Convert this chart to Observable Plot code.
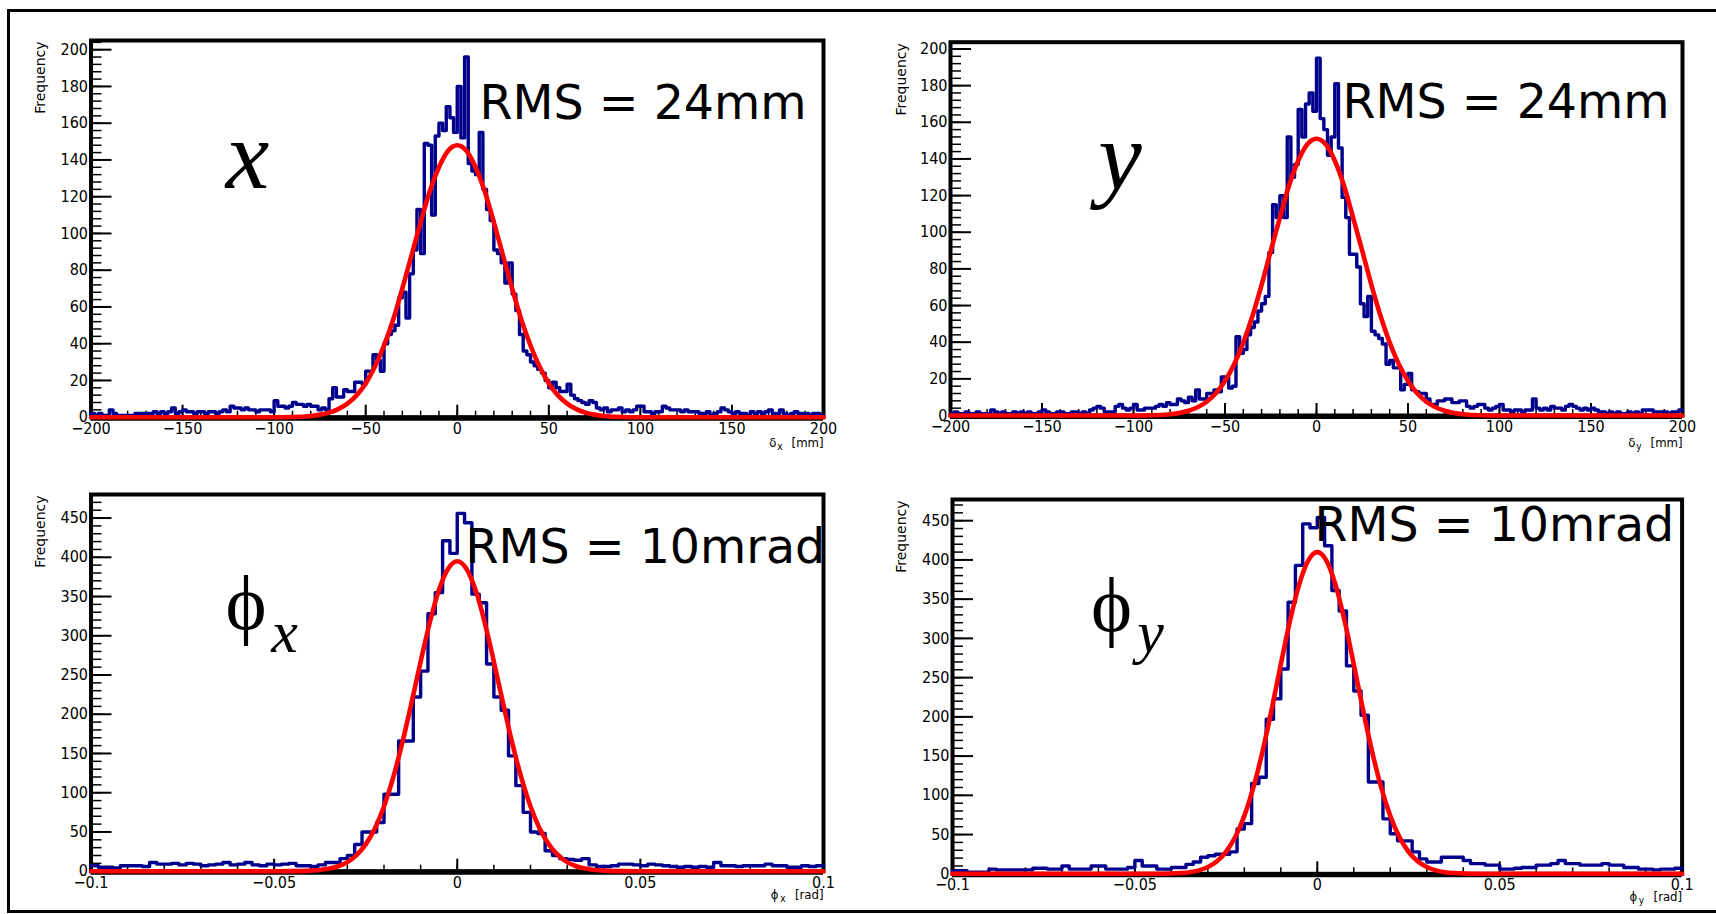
<!DOCTYPE html>
<html><head><meta charset="utf-8">
<script src="https://cdn.jsdelivr.net/npm/d3@7"></script>
<script src="https://cdn.jsdelivr.net/npm/@observablehq/plot@0.6"></script>
<style>
html,body{margin:0;padding:0;background:#fff;}
#root{position:relative;width:1716px;height:914px;overflow:hidden;background:#fff;}
#border{position:absolute;left:7px;top:8.5px;width:1740px;height:904.5px;border:3px solid #000;box-sizing:border-box;z-index:10;pointer-events:none;}
.panel{position:absolute;}
</style></head><body>
<div id="root"><div id="border"></div></div>
<script>
// ---------------- data ----------------
// δx residual histogram: 200 bins of 2 mm from -200 to 200 mm
const deltaXCounts = [
2,1,2,1,1,4,2,1,1,1, 1,1,2,2,2,2,2,3,2,3, 2,3,5,2,3,4,3,3,2,3, 3,2,3,3,2,3,4,3,6,5,
5,4,5,4,4,3,4,4,4,3, 9,6,6,5,6,8,7,7,6,7, 6,6,4,5,4,10,16,11,11,15, 14,14,19,19,18,25,25,34,31,25,
40,45,47,50,65,68,54,78,91,113, 89,149,148,110,153,160,156,169,163,155,
180,152,196,138,134,132,155,124,113,107, 91,89,84,73,84,67,58,45,36,34,
30,28,26,24,20,16,19,16,14,14, 18,12,10,9,8,7,9,8,5,4, 5,3,4,4,5,3,4,3,4,6,
6,3,3,2,3,3,6,5,4,4, 4,3,4,3,3,3,2,2,3,1, 2,3,5,4,3,2,3,2,2,1, 3,2,3,2,3,4,2,2,4,2, 1,2,3,2,2,2,1,2,2,1];
// δy residual histogram: 200 bins of 2 mm
const deltaYCounts = [
1,2,1,1,2,1,1,2,1,1, 1,3,2,1,2,1,1,2,1,2, 1,2,1,1,2,3,2,1,1,2, 2,1,1,2,2,1,2,1,3,4,
5,4,2,2,2,5,6,4,3,4, 6,3,3,4,4,4,5,6,5,7, 6,6,9,8,7,10,8,14,9,9, 12,12,14,13,21,21,15,16,43,34,
36,44,48,51,57,61,65,89,115,108, 120,108,152,130,137,167,152,170,176,166,
195,162,156,142,152,181,146,119,108,88, 88,81,61,54,65,46,44,42,39,28,
30,26,26,14,17,23,14,13,12,12, 9,6,6,8,8,9,9,7,7,8, 8,5,4,5,6,6,4,3,4,5,
6,3,3,2,3,3,2,3,3,9, 4,3,4,3,5,4,4,3,5,6, 5,4,3,4,3,4,3,2,2,1, 2,1,2,1,1,2,1,2,1,3, 3,3,2,2,2,2,1,2,2,3];
// ϕx histogram: 100 bins of 0.002 rad from -0.1 to 0.1
const phiXCounts = [
7,5,5,4,7,7,7,6,11,9, 9,10,8,10,9,7,8,9,11,8, 9,11,8,7,9,8,9,10,7,7, 6,8,11,11,16,20,34,50,50,62,
98,98,166,166,222,255,328,355,421,405, 456,444,353,342,264,222,205,147,109,75,
50,48,26,20,16,15,14,16,8,6, 6,7,9,9,8,7,9,8,7,6, 5,6,5,6,5,11,7,7,6,7, 7,7,9,7,7,5,5,7,6,7];
// ϕy histogram: 100 bins of 0.002 rad
const phiYCounts = [
4,4,2,2,2,6,5,5,5,5, 5,7,7,6,6,10,6,6,6,10, 10,6,6,6,8,17,10,10,6,6, 8,8,12,15,21,23,25,25,28,57,
64,115,123,197,223,261,346,393,446,441, 454,418,361,335,265,233,202,117,117,70,
51,42,42,28,19,15,15,21,21,21, 17,13,13,11,11,6,6,7,8,8, 11,11,13,17,13,13,11,11,11,13, 11,11,8,8,6,6,5,6,6,7];

// red fitted curves
const fitMmPos = [-200,-150,-100,-90,-80,-75,-70,-65,-60,-55,-50,-45,-40,-35,-30,-25,-20,-15,-10,-5,0,5,10,15,20,25,30,35,40,45,50,55,60,65,70,75,80,90,100,150,200];
const fitDeltaX = [0,0,0,0.1,0.7,1.4,2.5,4.4,7.4,11.9,18.4,27.4,39,53,70,88,106,123,136,145,148,145,136,123,106,88,70,53,39,27.4,18.4,11.9,7.4,4.4,2.5,1.4,0.7,0.1,0,0,0];
const fitDeltaY = [0,0,0,0.1,0.7,1.4,2.6,4.5,7.5,12.1,18.8,28,39.8,54.3,71.3,89.8,108,125.5,139,148,151,148,139,125.5,108,89.8,71.3,54.3,39.8,28,18.8,12.1,7.5,4.5,2.6,1.4,0.7,0.1,0,0,0];
const fitRadPos = [-0.1,-0.05,-0.045,-0.04,-0.0375,-0.035,-0.0325,-0.03,-0.0275,-0.025,-0.0225,-0.02,-0.0175,-0.015,-0.0125,-0.01,-0.0075,-0.005,-0.0025,0,0.0025,0.005,0.0075,0.01,0.0125,0.015,0.0175,0.02,0.0225,0.025,0.0275,0.03,0.0325,0.035,0.0375,0.04,0.045,0.05,0.1];
const fitPhiX = [0,0,0.15,0.75,1.6,3.3,6.3,11.6,20.5,34.2,54.4,82.5,119.1,163.7,214.2,267,316.9,358.2,385.4,395,385.4,358.2,316.9,267,214.2,163.7,119.1,82.5,54.4,34.2,20.5,11.6,6.3,3.3,1.6,0.75,0.15,0,0];
const fitPhiY = [0,0,0.1,0.4,1.0,2.1,4.4,8.7,16.0,28.1,46.8,73.8,110.3,156.3,209.8,267.1,322.2,368.3,399.2,410,399.2,368.3,322.2,267.1,209.8,156.3,110.3,73.8,46.8,28.1,16.0,8.7,4.4,2.1,1.0,0.4,0.1,0,0];

// tick labels
const mmTicks = [-200,-150,-100,-50,0,50,100,150,200];
const radTicks = [-0.1,-0.05,0,0.05,0.1];
const freqTicksTop = [0,20,40,60,80,100,120,140,160,180,200];
const freqTicksBottom = [0,50,100,150,200,250,300,350,400,450];

const rmsLabels = ["RMS = 24mm", "RMS = 24mm", "RMS = 10mrad", "RMS = 10mrad"];

// ---------------- drawing ----------------
const COND = '"DejaVu Sans Condensed", "Liberation Sans Narrow", "DejaVu Sans", sans-serif';
const SANS = '"DejaVu Sans", "Liberation Sans", sans-serif';
const SERIF = '"Liberation Serif", "DejaVu Serif", serif';
const fmt = d => d === 0 ? "0" : (d < 0 ? "\u2212" : "") + String(Math.abs(d));

function stepPoints(values, lo, w) {
  const pts = values.map((v, i) => ({x: lo + i * w, y: v}));
  pts.push({x: lo + values.length * w, y: values[values.length - 1]});
  return pts;
}

function panel(c) {
  const W = 858, H = c.height;
  const pw = W - c.ml - c.mr, ph = H - c.mt - c.mb;
  const fit = c.fitX.map((x, i) => ({x, y: c.fitY[i]}));
  const t = (txt, o) => Plot.text([txt], Object.assign({text: d => d, fill: "black"}, o));
  const marks = [
    Plot.tickY(c.yMinor, {y: d => d, insetRight: pw - 11, stroke: "black", strokeWidth: 1.5}),
    Plot.tickY(c.yMajor, {y: d => d, insetRight: pw - 21, stroke: "black", strokeWidth: 2}),
    Plot.tickX(c.xMinor, {x: d => d, insetTop: ph - 6, stroke: "black", strokeWidth: 1.5}),
    Plot.tickX(c.xMajor, {x: d => d, insetTop: ph - 12, stroke: "black", strokeWidth: 2}),
    Plot.axisY({ticks: c.yMajor, tickSize: 0, tickPadding: 3, tickFormat: fmt, label: null, fontSize: 16}),
    Plot.axisX({ticks: c.xMajor, tickSize: 0, tickPadding: 5, tickFormat: fmt, label: null, fontSize: 16}),
    Plot.frame({stroke: "black", strokeWidth: 4}),
    Plot.ruleY([0], {stroke: "black", strokeWidth: 5, dy: 1}),
    Plot.line(stepPoints(c.counts, c.lo, c.bw), {x: "x", y: "y", curve: "step-after", stroke: "#00008c", strokeWidth: 3.4}),
    Plot.line(fit, {x: "x", y: "y", curve: "monotone-x", stroke: "#ff0000", strokeWidth: 4.6}),
    // y axis title
    t("Frequency", {frameAnchor: "top-left", rotate: -90, textAnchor: "end", lineAnchor: "middle", dx: c.freqDx, dy: 1, fontSize: 14, fontFamily: SANS}),
    // x axis title
    t(c.unit, {frameAnchor: "bottom-right", textAnchor: "end", lineAnchor: "bottom", dy: c.xtDy, fontSize: 13, fontFamily: COND}),
    t(c.sub, {frameAnchor: "bottom-right", textAnchor: "end", lineAnchor: "bottom", dx: c.subDx, dy: c.xtDy + 3, fontSize: 10, fontFamily: COND}),
    t(c.sym, {frameAnchor: "bottom-right", textAnchor: "end", lineAnchor: "bottom", dx: c.symDx, dy: c.xtDy, fontSize: 13, fontFamily: COND}),
    // RMS annotation
    t(c.rms, {frameAnchor: "top-left", textAnchor: "start", lineAnchor: "bottom", dx: c.rmsDx, dy: c.rmsDy, fontSize: 47.5, fontFamily: SANS}),
  ];
  if (c.bigPhi) {
    marks.push(t("\u03D5", {frameAnchor: "top-left", textAnchor: "middle", lineAnchor: "bottom", dx: c.bigDx, dy: c.bigDy, fontSize: 78, fontFamily: SERIF}));
    marks.push(t(c.big, {frameAnchor: "top-left", textAnchor: "middle", lineAnchor: "bottom", dx: c.bigSubDx, dy: c.bigSubDy, fontSize: 60, fontStyle: "italic", fontFamily: SERIF}));
  } else {
    marks.push(t(c.big, {frameAnchor: "top-left", textAnchor: "middle", lineAnchor: "bottom", dx: c.bigDx, dy: c.bigDy, fontSize: 98, fontStyle: "italic", fontFamily: SERIF}));
  }
  const svg = Plot.plot({
    width: W, height: H,
    marginLeft: c.ml, marginRight: c.mr, marginTop: c.mt, marginBottom: c.mb,
    x: {domain: c.xDomain, label: null},
    y: {domain: [0, c.yMax], label: null},
    style: {background: "transparent", fontFamily: COND, fontSize: "16px", color: "black", overflow: "visible"},
    marks
  });
  const div = document.createElement("div");
  div.className = "panel";
  div.style.left = c.left + "px";
  div.style.top = c.top + "px";
  div.appendChild(svg);
  document.getElementById("root").appendChild(div);
}

const mmMinor = d3.range(-200, 201, 10);
const radMinor = d3.range(-10, 11).map(k => k / 100);

panel({left: 0, top: 0, height: 460, ml: 90.5, mr: 35, mt: 40, mb: 43.3,
  counts: deltaXCounts, lo: -200, bw: 2, xDomain: [-200, 200], yMax: 205,
  fitX: fitMmPos, fitY: fitDeltaX, xMajor: mmTicks, xMinor: mmMinor,
  yMajor: freqTicksTop, yMinor: d3.range(0, 205, 4),
  unit: "[mm]", sub: "x", sym: "\u03B4", subDx: -41, symDx: -47, xtDy: 30, freqDx: -50.5,
  rms: rmsLabels[0], rmsDx: 388.5, rmsDy: 78, big: "x", bigDx: 156.5, bigDy: 147});
panel({left: 858, top: 0, height: 460, ml: 92, mr: 34, mt: 41.7, mb: 45,
  counts: deltaYCounts, lo: -200, bw: 2, xDomain: [-200, 200], yMax: 203.7,
  fitX: fitMmPos, fitY: fitDeltaY, xMajor: mmTicks, xMinor: mmMinor,
  yMajor: freqTicksTop, yMinor: d3.range(0, 204, 4),
  unit: "[mm]", sub: "y", sym: "\u03B4", subDx: -41, symDx: -47, xtDy: 31, freqDx: -49.3,
  rms: rmsLabels[1], rmsDx: 392, rmsDy: 75.3, big: "y", bigDx: 169.5, bigDy: 146.3});
panel({left: 0, top: 460, height: 454, ml: 90.5, mr: 35, mt: 34, mb: 43.3,
  counts: phiXCounts, lo: -0.1, bw: 0.002, xDomain: [-0.1, 0.1], yMax: 480,
  fitX: fitRadPos, fitY: fitPhiX, xMajor: radTicks, xMinor: radMinor,
  yMajor: freqTicksBottom, yMinor: d3.range(0, 480, 10),
  unit: "[rad]", sub: "x", sym: "\u03D5", subDx: -38, symDx: -45, xtDy: 28, freqDx: -50.5,
  rms: rmsLabels[2], rmsDx: 374.5, rmsDy: 68.7, big: "x", bigPhi: true,
  bigDx: 155, bigDy: 134, bigSubDx: 193.5, bigSubDy: 157});
panel({left: 858, top: 460, height: 454, ml: 94, mr: 34.4, mt: 39, mb: 40.7,
  counts: phiYCounts, lo: -0.1, bw: 0.002, xDomain: [-0.1, 0.1], yMax: 477,
  fitX: fitRadPos, fitY: fitPhiY, xMajor: radTicks, xMinor: radMinor,
  yMajor: freqTicksBottom, yMinor: d3.range(0, 477, 10),
  unit: "[rad]", sub: "y", sym: "\u03D5", subDx: -38, symDx: -45, xtDy: 27.5, freqDx: -51,
  rms: rmsLabels[3], rmsDx: 362, rmsDy: 41, big: "y", bigPhi: true,
  bigDx: 159, bigDy: 131, bigSubDx: 198, bigSubDy: 152});
</script>
</body></html>
